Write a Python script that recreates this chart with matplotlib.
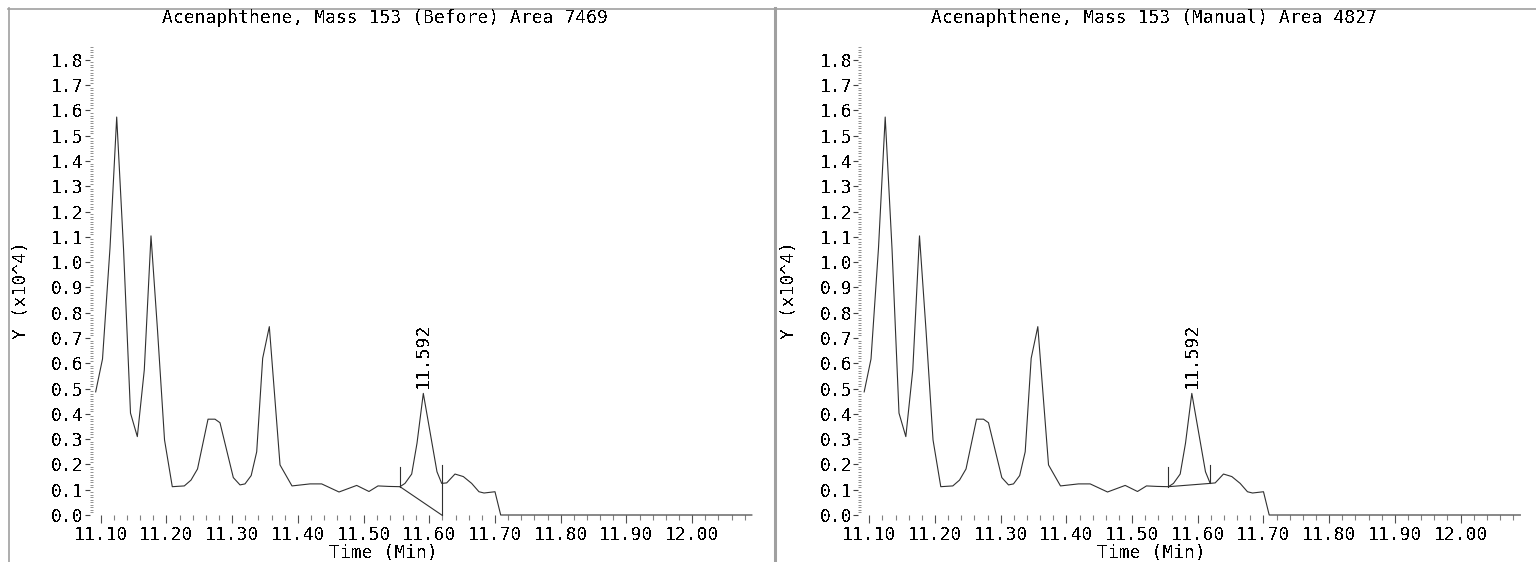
import matplotlib
matplotlib.use('Agg')
import matplotlib.pyplot as plt
from matplotlib.ticker import MultipleLocator, FormatStrFormatter
from matplotlib.lines import Line2D

# ---- data (time in minutes, intensity in x10^4 counts) ----
time_min = [11.0922, 11.1026, 11.1140, 11.1242, 11.1346, 11.1452, 11.1556, 11.1662,
            11.1764, 11.1863, 11.1970, 11.2088, 11.2271, 11.2373, 11.2472, 11.2632,
            11.2738, 11.2814, 11.3017, 11.3119, 11.3195, 11.3289, 11.3373, 11.3464,
            11.3565, 11.3728, 11.3910, 11.4184, 11.4362, 11.4626, 11.4895, 11.5082,
            11.5219, 11.5386, 11.5554, 11.5630, 11.5732, 11.5813, 11.5909, 11.6117,
            11.6189, 11.6265, 11.6391, 11.6518, 11.6645, 11.6756, 11.6833, 11.7000,
            11.7087, 12.0910]
intensity = [0.487, 0.617, 1.056, 1.574, 1.052, 0.403, 0.310, 0.574,
             1.104, 0.732, 0.297, 0.112, 0.115, 0.138, 0.182, 0.379,
             0.379, 0.365, 0.148, 0.119, 0.123, 0.156, 0.250, 0.620,
             0.745, 0.198, 0.115, 0.123, 0.123, 0.091, 0.117, 0.093,
             0.115, 0.113, 0.112, 0.125, 0.162, 0.284, 0.481, 0.171,
             0.125, 0.127, 0.162, 0.152, 0.125, 0.092, 0.087, 0.092,
             0.0, 0.0]

titles = ["Acenaphthene, Mass 153 (Before) Area 7469",
          "Acenaphthene, Mass 153 (Manual) Area 4827"]
peak_rt_label = "11.592"
peak_apex = (11.5909, 0.481)
# integration baseline: start point and end point for each panel
base_start = [(11.5554, 0.112), (11.5554, 0.112)]
base_end = [(11.6189, 0.0), (11.6189, 0.125)]
marker_top = [0.191, 0.198]

x_range = (11.0828, 12.0912)
y_range = (0.0, 1.851)

# ---- figure ----
W, H = 1536, 562
FS = 13
plt.rcParams['font.family'] = ['DejaVu Sans Mono']
plt.rcParams['font.size'] = FS
plt.rcParams['text.antialiased'] = False
fig = plt.figure(figsize=(W / 100, H / 100), dpi=100)

def fx(px):
    return px / W

def fy(py):
    return 1 - py / H

line_col = '#303030'
grey = '#a0a0a0'
offset = 768.5

for i in range(2):
    ox = i * offset
    ax = fig.add_axes([fx(89.5 + ox), fy(515), 662.5 / W, 468 / H])
    ax.set_xlim(*x_range)
    ax.set_ylim(*y_range)
    for s in ax.spines.values():
        s.set_visible(False)
    ax.plot(time_min, intensity, color=line_col, lw=0.8, clip_on=False)
    # baseline and peak markers
    (x0, y0), (x1, y1) = base_start[i], base_end[i]
    ax.plot([x0, x1], [y0, y1], color=line_col, lw=0.8, clip_on=False)
    ax.plot([x0, x0], [y0, marker_top[0]], color=line_col, lw=0.8, clip_on=False)
    ax.plot([x1, x1], [y1, marker_top[1]], color=line_col, lw=0.8, clip_on=False)
    ax.annotate(peak_rt_label, xy=peak_apex, xytext=(0, 4), textcoords='offset points',
                rotation=90, ha='center', va='bottom', fontsize=FS)

    ax.xaxis.set_major_locator(MultipleLocator(0.1))
    ax.xaxis.set_minor_locator(MultipleLocator(0.02))
    ax.xaxis.set_major_formatter(FormatStrFormatter('%.2f'))
    ax.yaxis.set_major_locator(MultipleLocator(0.1))
    ax.yaxis.set_minor_locator(MultipleLocator(0.01))
    ax.yaxis.set_major_formatter(FormatStrFormatter('%.1f'))
    ax.set_xticks([t / 100 for t in range(1110, 1201, 10)])
    ax.tick_params(axis='x', which='major', direction='out', length=5.8, width=0.8,
                   color='#505050', pad=2, labelsize=FS)
    ax.tick_params(axis='x', which='minor', direction='out', length=3.6, width=0.8,
                   color='#808080')
    ax.tick_params(axis='y', which='major', direction='out', length=3.6, width=0.8,
                   color='#404040', pad=0.5, labelsize=FS)
    ax.tick_params(axis='y', which='minor', direction='in', length=2.2, width=0.7,
                   color='#909090')

    fig.text(fx(385 + ox), fy(18), titles[i], ha='center', va='center', fontsize=FS)
    fig.text(fx(21 + ox), fy(290), "Y (x10^4)", rotation=90, ha='center', va='center',
             fontsize=FS)
    fig.text(fx(383 + ox), fy(553), "Time (Min)", ha='center', va='center', fontsize=FS)

# panel borders
fig.add_artist(Line2D([fx(8), fx(W)], [fy(8.7), fy(8.7)], color=grey, lw=1.2))
fig.add_artist(Line2D([fx(8.8), fx(8.8)], [fy(8), fy(H)], color=grey, lw=1.2))
fig.add_artist(Line2D([fx(775), fx(775)], [fy(8), fy(H)], color=grey, lw=2.2))

fig.savefig('out.png', dpi=100)
